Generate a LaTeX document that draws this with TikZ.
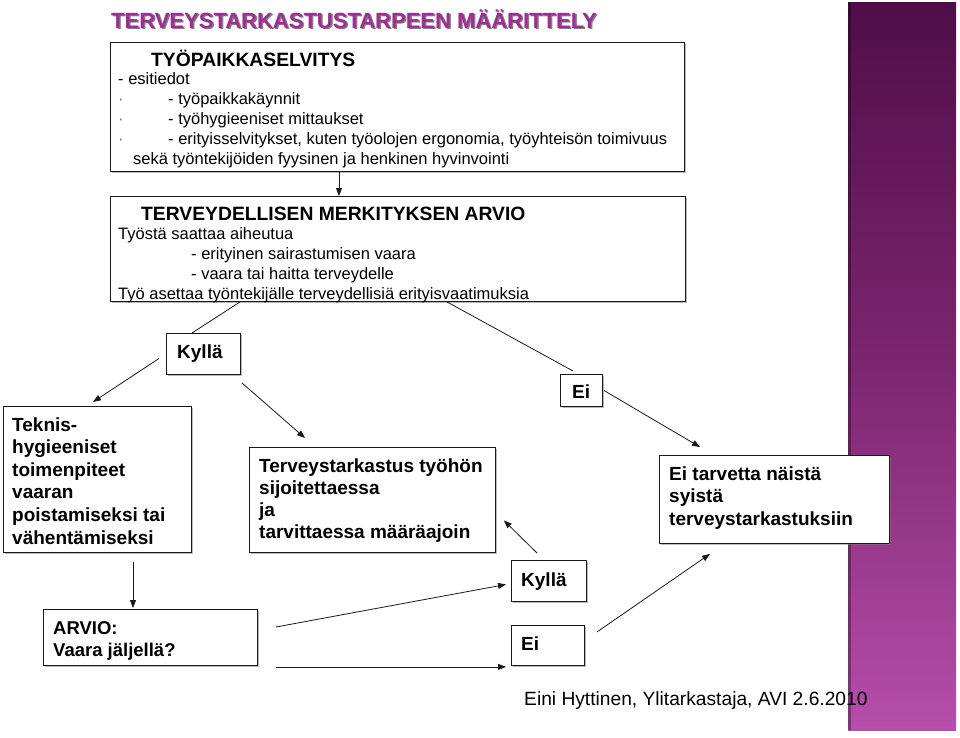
\documentclass[tikz,border=0pt]{standalone}
\usepackage{fontspec}
\setmainfont{Liberation Sans}
\usetikzlibrary{arrows.meta,shadows,calc}
\definecolor{titlecol}{RGB}{160,44,150}
\definecolor{bartop}{RGB}{80,14,72}
\definecolor{barmid}{RGB}{124,38,112}
\definecolor{barbot}{RGB}{182,78,170}
\definecolor{linecol}{RGB}{25,25,25}
\tikzset{
  box/.style={draw=linecol, line width=0.9pt, fill=white, anchor=north west, inner sep=0pt,
    drop shadow={shadow xshift=1.6pt, shadow yshift=-1.6pt, fill=black!50, opacity=0.55}},
  txt/.style={anchor=base west, inner sep=0pt, align=left},
  reg/.style={txt, font=\fontsize{16.5}{20}\selectfont},
  hd/.style={txt, font=\fontsize{19.3}{19.3}\selectfont\bfseries},
  bt/.style={txt, font=\fontsize{19}{22.6}\selectfont\bfseries},
  arr/.style={draw=linecol, line width=0.8pt, -{Triangle[length=8pt,width=6pt]}},
  ln/.style={draw=linecol, line width=0.8pt},
}
\begin{document}
\begin{tikzpicture}[x=1pt,y=-1pt]
\useasboundingbox (0,0) rectangle (960,737);
\fill[white] (0,0) rectangle (960,737);
% purple side bar
\shade[top color=bartop, bottom color=barbot, middle color=barmid] (848,2) rectangle (956,730);
\fill[black, opacity=0.3] (848,2) rectangle (851,730);
% title
\node[anchor=base west, inner sep=0pt, font=\fontsize{22}{22}\selectfont\bfseries, text=black!50] (titlesh) at (112.5,29.5) {TERVEYSTARKASTUSTARPEEN MÄÄRITTELY};
\node[anchor=base west, inner sep=0pt, font=\fontsize{22}{22}\selectfont\bfseries, text=titlecol] (title) at (111,28) {TERVEYSTARKASTUSTARPEEN MÄÄRITTELY};
% boxes
\node[box, minimum width=574pt, minimum height=129pt] (b1) at (110,42) {};
\node[box, minimum width=575pt, minimum height=105pt] (b2) at (110,196) {};
\node[box, minimum width=74pt, minimum height=41pt] (ky) at (166,333) {};
\node[box, minimum width=188pt, minimum height=146pt] (tek) at (3,406) {};
\node[box, minimum width=246pt, minimum height=105pt] (ter) at (249,447) {};
\node[box, minimum width=42pt, minimum height=32pt] (ei) at (560,374) {};
\node[box, minimum width=230pt, minimum height=88pt] (eit) at (659,455) {};
\node[box, minimum width=214pt, minimum height=56pt] (arv) at (43,609) {};
\node[box, minimum width=75pt, minimum height=41pt] (ky2) at (511,560) {};
\node[box, minimum width=73pt, minimum height=40pt] (ei2) at (511,625) {};
% texts (multi-line nodes anchored at the baseline of their last line)
\node[hd] (t1h) at (151,66) {TYÖPAIKKASELVITYS};
\node[reg] (t1b) at (118,164) {- esitiedot\\
\makebox[50pt][l]{\textcolor{black!55}{·}}- työpaikkakäynnit\\
\makebox[50pt][l]{\textcolor{black!55}{·}}- työhygieeniset mittaukset\\
\makebox[50pt][l]{\textcolor{black!55}{·}}- erityisselvitykset, kuten työolojen ergonomia, työyhteisön toimivuus\\
\hspace*{15pt}sekä työntekijöiden fyysinen ja henkinen hyvinvointi};
\node[hd] (t2h) at (141,220) {TERVEYDELLISEN MERKITYKSEN ARVIO};
\node[reg] (t2b) at (118,299) {Työstä saattaa aiheutua\\
\hspace*{73pt}- erityinen sairastumisen vaara\\
\hspace*{73pt}- vaara tai haitta terveydelle\\
Työ asettaa työntekijälle terveydellisiä erityisvaatimuksia};
\node[bt] (tky) at (177,358) {Kyllä};
\node[bt] (ttek) at (12,544) {Teknis-\\hygieeniset\\toimenpiteet\\vaaran\\poistamiseksi tai\\vähentämiseksi};
\node[bt, font=\fontsize{19}{22}\selectfont\bfseries] (tter) at (259,538) {Terveystarkastus työhön\\sijoitettaessa\\ja\\tarvittaessa määräajoin};
\node[bt] (tei) at (572,398) {Ei};
\node[bt, font=\fontsize{19}{22.5}\selectfont\bfseries] (teit) at (669,525) {Ei tarvetta näistä\\syistä\\terveystarkastuksiin};
\node[bt, font=\fontsize{18.5}{22}\selectfont\bfseries] (tarv) at (53,656) {ARVIO:\\Vaara jäljellä?};
\node[bt] (tky2) at (521,586) {Kyllä};
\node[bt] (tei2) at (521,650) {Ei};
\node[txt, font=\fontsize{19.2}{19.2}\selectfont] (foot) at (524,705) {Eini Hyttinen, Ylitarkastaja, AVI 2.6.2010};
% connectors
\draw[arr] ($(b1.south west)+(229,0)$) -- ($(b2.north west)+(229,0)$);
\draw[ln] ($(b2.south west)+(130,0)$) -- ($(ky.north west)+(26,0)$);
\draw[ln] ($(b2.south west)+(337,0)$) -- ($(ei.north west)+(13,-3)$);
\draw[arr] ($(ky.west)+(-7,4.5)$) -- ($(tek.north west)+(90,-4)$);
\draw[arr] ($(ky.south east)+(1,8)$) -- ($(ter.north west)+(56,-9)$);
\draw[arr] ($(ei.east)+(1,0)$) -- ($(eit.north west)+(41,-8)$);
\draw[arr] ($(tek.south west)+(130,9)$) -- ($(arv.north west)+(90,-1)$);
\draw[arr] ($(arv.north east)+(18,18)$) -- ($(ky2.west)+(-5,3.5)$);
\draw[arr] ($(arv.south east)+(18,1)$) -- ($(ei2.south west)+(-5,1)$);
\draw[arr] ($(ky2.north west)+(26,-7)$) -- ($(ter.east)+(8,20.5)$);
\draw[arr] ($(ei2.north east)+(12,7)$) -- ($(eit.south west)+(51,10)$);
\end{tikzpicture}
\end{document}
